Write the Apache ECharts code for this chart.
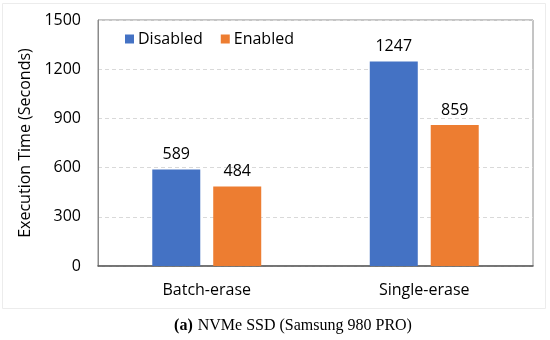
<!DOCTYPE html>
<html><head><meta charset="utf-8">
<script src="https://cdn.jsdelivr.net/npm/echarts@6/dist/echarts.min.js"></script>
<style>html,body{margin:0;padding:0;background:#fff}#c{width:550px;height:340px}</style>
</head><body><div id="c"></div>
<script>
var categories = ['Batch-erase', 'Single-erase'];
var disabledValues = [589, 1247];
var enabledValues = [484, 859];
var seriesNames = ['Disabled', 'Enabled'];
var yTicks = [0, 300, 600, 900, 1200, 1500];

var chart = echarts.init(document.getElementById('c'), null, {renderer: 'canvas'});
var font = '"Open Sans", sans-serif';
chart.setOption({
  animation: false,
  backgroundColor: '#fff',
  graphic: [{
    type: 'rect', shape: {x: 2.5, y: 3.5, width: 543, height: 305},
    style: {fill: 'none', stroke: '#ececec', lineWidth: 1}, z: -1
  }],
  title: {
    text: '{b|(a)} {n|NVMe SSD (Samsung 980 PRO)}',
    left: 288, top: 312, textAlign: 'center',
    textStyle: {
      fontWeight: 'normal',
      rich: {
        b: {fontFamily: '"Liberation Serif", serif', fontWeight: 'bold', fontSize: 16, color: '#000'},
        n: {fontFamily: '"Liberation Serif", serif', fontWeight: 'normal', fontSize: 16, color: '#000'}
      }
    }
  },
  legend: {
    data: seriesNames, left: 120, top: 26,
    itemWidth: 9, itemHeight: 9, itemGap: 18,
    icon: 'rect',
    textStyle: {fontFamily: font, fontSize: 16, color: '#000', padding: [0,0,0,-1]}
  },
  grid: {left: 98, right: 17, top: 20, bottom: 74, show: true, borderColor: '#8a8a8a', borderWidth: 1},
  xAxis: {
    type: 'category', data: categories,
    axisLine: {lineStyle: {color: '#595959', width: 1.5}},
    axisTick: {show: false},
    axisLabel: {fontFamily: font, fontSize: 16, color: '#000', margin: 16}
  },
  yAxis: {
    type: 'value', min: yTicks[0], max: yTicks[yTicks.length-1], interval: 300,
    name: 'Execution Time (Seconds)', nameLocation: 'middle', nameGap: 62,
    nameTextStyle: {fontFamily: font, fontSize: 16, color: '#000'},
    axisLine: {show: true, lineStyle: {color: '#8a8a8a'}},
    axisLabel: {fontFamily: font, fontSize: 16, color: '#000', margin: 17, formatter: function (v) { return String(v); }},
    splitLine: {lineStyle: {color: '#d9d9d9', type: [4, 3]}}
  },
  series: [{
    name: seriesNames[0], type: 'bar', data: disabledValues,
    barWidth: 48, barGap: '27%',
    itemStyle: {color: '#4472c4'},
    label: {show: true, position: 'top', distance: 7, fontFamily: font, fontSize: 16, color: '#000'}
  }, {
    name: seriesNames[1], type: 'bar', data: enabledValues,
    barWidth: 48,
    itemStyle: {color: '#ed7d31'},
    label: {show: true, position: 'top', distance: 7, fontFamily: font, fontSize: 16, color: '#000'}
  }]
});
</script></body></html>
